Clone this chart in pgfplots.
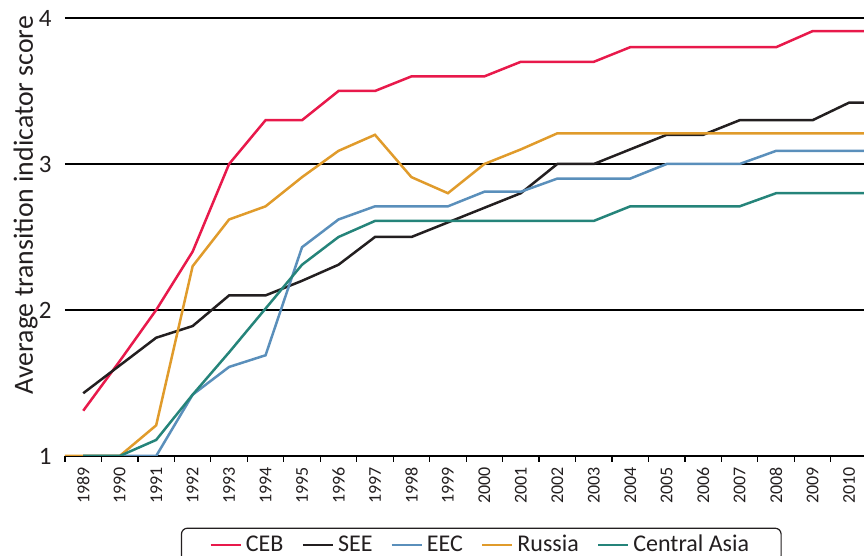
\documentclass[border=0pt]{standalone}
\usepackage{fontspec}
\setmainfont{Carlito}
\usepackage{pgfplots}
\pgfplotsset{compat=1.18}
\usetikzlibrary{calc}

\definecolor{ceb}{HTML}{E8194B}
\definecolor{see}{HTML}{231F20}
\definecolor{eec}{HTML}{5A8FBB}
\definecolor{rus}{HTML}{E09B2B}
\definecolor{cas}{HTML}{25847A}

\begin{document}
\begin{tikzpicture}
\begin{axis}[
  scale only axis, width=399.5pt, height=219pt,
  xmin=-0.5, xmax=21.41, ymin=1, ymax=4,
  axis lines*=left,
  y axis line style={draw=none},
  x axis line style={line width=0.6pt},
  ytick={1,2,3,4}, yticklabels={1,2,3,4},
  ymajorgrids, grid style={black, line width=0.6pt},
  xtick={0,...,21},
  xticklabels={1989,1990,1991,1992,1993,1994,1995,1996,1997,1998,1999,
               2000,2001,2002,2003,2004,2005,2006,2007,2008,2009,2010},
  minor xtick={-0.5,0.5,...,20.5},
  major tick length=0pt, minor tick length=3pt, tick align=outside,
  minor x tick style={black, line width=0.6pt},
  xticklabel shift=5.5pt, yticklabel shift=6.5pt,
  xticklabel style={rotate=90, anchor=east, inner sep=0pt, text=see,
                    font=\fontsize{9}{10}\selectfont},
  yticklabel style={anchor=east, inner sep=0pt, text=see,
                    font=\fontsize{12.5}{13}\selectfont},
  ylabel={Average transition indicator score},
  every axis y label/.style={at={(rel axis cs:0,0.573)}, xshift=-13.5pt, rotate=90,
                    anchor=south, inner sep=0pt, text=see,
                    font=\fontsize{13.9}{15}\selectfont},
  legend columns=5,
  legend style={at={(rel axis cs:0.145,0)}, anchor=north west, yshift=-35.8pt,
                draw=see, line width=0.6pt, rounded corners=3pt, text=see,
                font=\fontsize{12}{14}\selectfont, inner xsep=14pt, inner ysep=2.5pt,
                nodes={inner ysep=1pt},
                /tikz/every even column/.append style={column sep=7pt}},
  legend cell align=left,
  legend image code/.code={\draw[#1, line width=1.25pt] (0pt,0pt) -- (15pt,0pt);},
  every axis plot/.append style={line width=1.25pt, no markers},
]
\addplot[ceb] coordinates {
  (0,1.31) (1,1.65) (2,2.0) (3,2.4) (4,3.0) (5,3.3) (6,3.3) (7,3.5) (8,3.5)
  (9,3.6) (10,3.6) (11,3.6) (12,3.7) (13,3.7) (14,3.7) (15,3.8) (16,3.8)
  (17,3.8) (18,3.8) (19,3.8) (20,3.91) (21,3.91) (22,3.91)};
\addlegendentry{CEB}
\addplot[see] coordinates {
  (0,1.43) (1,1.62) (2,1.81) (3,1.89) (4,2.1) (5,2.1) (6,2.2) (7,2.31) (8,2.5)
  (9,2.5) (10,2.6) (11,2.7) (12,2.8) (13,3.0) (14,3.0) (15,3.1) (16,3.2)
  (17,3.2) (18,3.3) (19,3.3) (20,3.3) (21,3.42) (22,3.42)};
\addlegendentry{SEE}
\addplot[eec] coordinates {
  (0,1.0) (1,1.0) (2,1.0) (3,1.42) (4,1.61) (5,1.69) (6,2.43) (7,2.62) (8,2.71)
  (9,2.71) (10,2.71) (11,2.81) (12,2.81) (13,2.9) (14,2.9) (15,2.9) (16,3.0)
  (17,3.0) (18,3.0) (19,3.09) (20,3.09) (21,3.09) (22,3.09)};
\addlegendentry{EEC}
\addplot[rus] coordinates {
  (-1,1.0) (0,1.0) (1,1.0) (2,1.21) (3,2.3) (4,2.62) (5,2.71) (6,2.91) (7,3.09)
  (8,3.2) (9,2.91) (10,2.8) (11,3.0) (12,3.1) (13,3.21) (14,3.21) (15,3.21)
  (16,3.21) (17,3.21) (18,3.21) (19,3.21) (20,3.21) (21,3.21) (22,3.21)};
\addlegendentry{Russia}
\addplot[cas] coordinates {
  (0,1.0) (1,1.0) (2,1.11) (3,1.42) (4,1.71) (5,2.01) (6,2.31) (7,2.5) (8,2.61)
  (9,2.61) (10,2.61) (11,2.61) (12,2.61) (13,2.61) (14,2.61) (15,2.71) (16,2.71)
  (17,2.71) (18,2.71) (19,2.8) (20,2.8) (21,2.8) (22,2.8)};
\addlegendentry{Central Asia}
\coordinate (bl) at (rel axis cs:0,0);
\coordinate (tr) at (rel axis cs:1,1);
\end{axis}
\pgfresetboundingbox
\path[use as bounding box] ($(bl)+(-32.5pt,-50pt)$) rectangle ($(tr)+(0pt,9pt)$);
\end{tikzpicture}
\end{document}
